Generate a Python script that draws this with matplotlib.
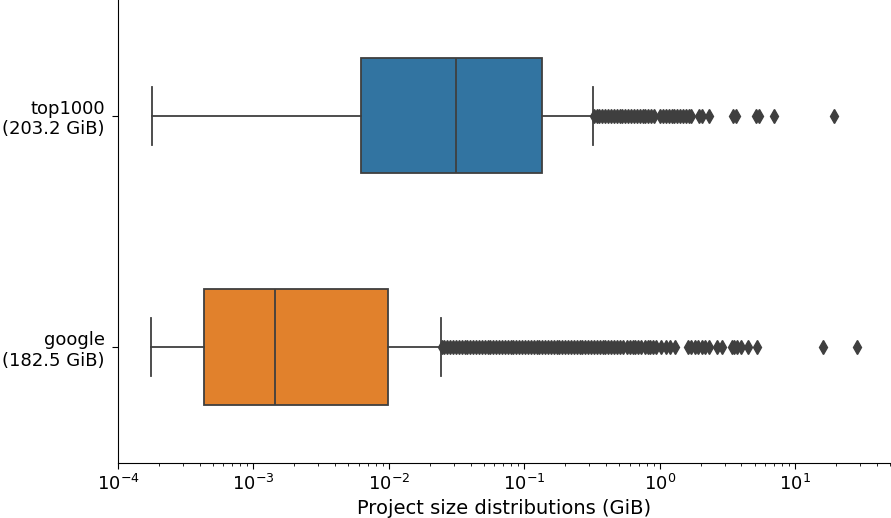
import matplotlib
matplotlib.use("Agg")
import matplotlib.pyplot as plt

# project size distributions in GiB
labels = ["top1000\n(203.2 GiB)", "google\n(182.5 GiB)"]
colors = ["#3274a1", "#e1812c"]

top1000_box = dict(whislo=1.78e-4, q1=6.2e-3, med=0.0311, q3=0.1346, whishi=0.321)
top1000_fliers = [
    0.325, 0.341, 0.358, 0.376, 0.395, 0.415, 0.436, 0.457, 0.480, 0.504,
    0.529, 0.556, 0.584, 0.613, 0.643, 0.675, 0.709, 0.745, 0.782, 0.821,
    0.862, 0.905, 1.00, 1.05, 1.10, 1.16, 1.22, 1.28, 1.34, 1.41, 1.48,
    1.55, 1.63, 1.71, 1.95, 2.05, 2.3, 3.45, 3.65, 5.1, 5.4, 7.0, 19.2,
]

google_box = dict(whislo=1.76e-4, q1=4.32e-4, med=1.43e-3, q3=9.9e-3, whishi=0.0241)
google_fliers = [
    0.0245, 0.0257, 0.0270, 0.0284, 0.0298, 0.0313, 0.0328, 0.0345, 0.0362,
    0.0380, 0.0399, 0.0419, 0.0440, 0.0462, 0.0485, 0.0509, 0.0535, 0.0561,
    0.0590, 0.0619, 0.0650, 0.0683, 0.0717, 0.0752, 0.0790, 0.0830, 0.0871,
    0.0915, 0.0960, 0.101, 0.106, 0.111, 0.117, 0.123, 0.129, 0.135, 0.142,
    0.149, 0.157, 0.164, 0.173, 0.181, 0.190, 0.200, 0.210, 0.220, 0.231,
    0.243, 0.255, 0.268, 0.281, 0.295, 0.310, 0.326, 0.342, 0.359, 0.377,
    0.396, 0.416, 0.437, 0.458, 0.481, 0.505, 0.530,
    0.57, 0.60, 0.63, 0.66, 0.69, 0.73, 0.77, 0.81, 0.85, 0.89, 0.94,
    1.02, 1.10, 1.19, 1.30,
    1.62, 1.70, 1.80, 1.90, 2.05, 2.15, 2.30,
    2.65, 2.85, 3.4, 3.55, 3.7, 4.0, 4.5, 5.2, 16.1, 28.3,
]

stats = [
    dict(top1000_box, fliers=top1000_fliers, label=labels[0]),
    dict(google_box, fliers=google_fliers, label=labels[1]),
]

gray = "#3f3f3f"
fig, ax = plt.subplots(figsize=(8.91, 5.18), dpi=100)
fig.subplots_adjust(left=0.1324, right=0.999, top=1.0, bottom=0.107)

parts = ax.bxp(
    stats,
    positions=[0, 1],
    vert=False,
    widths=0.5,
    patch_artist=True,
    boxprops=dict(edgecolor=gray, linewidth=1.3),
    whiskerprops=dict(color=gray, linewidth=1.3),
    capprops=dict(color=gray, linewidth=1.3),
    medianprops=dict(color=gray, linewidth=1.3),
    flierprops=dict(marker="d", markerfacecolor=gray, markeredgecolor=gray,
                    markersize=7, linestyle="none"),
)
for patch, c in zip(parts["boxes"], colors):
    patch.set_facecolor(c)

ax.set_xscale("log")
ax.set_xlim(1e-4, 50)
ax.set_ylim(1.5, -0.5)
ax.set_yticks([0, 1])
ax.set_yticklabels(labels)
ax.tick_params(labelsize=13)
ax.tick_params(which="major", length=4.5)
ax.tick_params(which="minor", length=2.5)
ax.tick_params(axis="y", pad=5)
ax.set_xlabel("Project size distributions (GiB)", fontsize=14)
ax.spines["top"].set_visible(False)
ax.spines["right"].set_visible(False)

fig.savefig("out.png", dpi=100)
